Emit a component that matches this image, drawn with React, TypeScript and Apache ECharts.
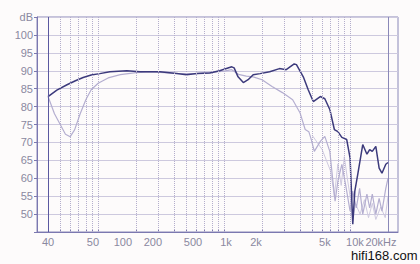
import React, { useEffect, useRef } from 'react';
import * as echarts from 'echarts';

// Frequency response (Hz, dB)
const mainCurve: [number, number][] = [
  [40, 82.8], [47, 84.6], [56.6, 86.1], [66, 87.2], [76, 88.1], [88, 88.8], [103, 89.2], [124, 89.7],
  [169, 90], [215, 89.7], [309, 89.7], [420, 89.2], [503, 88.9], [608, 89.2], [770, 89.4], [920, 90],
  [1150, 91.1], [1200, 90.8], [1290, 88.3], [1420, 86.7], [1550, 87.5], [1700, 88.9], [1930, 89.2],
  [2300, 89.7], [2750, 90.6], [3110, 90.3], [3600, 91.9], [3750, 91.7], [4250, 88.3], [4650, 84.7],
  [5100, 81.4], [5800, 82.8], [6300, 82.2], [6900, 79.2], [7500, 73.6], [8000, 73], [8600, 71.4],
  [9400, 70.8], [10000, 65.6], [10300, 54.4], [10500, 47.2], [10900, 56.4], [11500, 61.1], [12600, 69.4],
  [13600, 66.7], [14300, 68], [15000, 67.5], [16000, 68.9], [17000, 62.8], [17900, 61.4], [19200, 63.9],
  [20000, 64.4],
];
const offAxisCurve: [number, number][] = [
  [40, 82.8], [45, 78], [50, 75], [55, 72.3], [60, 71.6], [65, 73.5], [72, 78], [80, 82], [88, 84.7],
  [100, 86.5], [120, 88], [150, 88.9], [200, 89.5], [260, 89.7], [400, 89.3], [600, 89.2], [1000, 89.9],
  [1150, 90.3], [1300, 89], [1500, 88.5], [1700, 88.3], [2000, 87.5], [2400, 85.6], [2900, 83.9],
  [3500, 81.9], [4000, 78.3], [4400, 73.6], [4700, 73], [4900, 71], [5200, 67.5], [5800, 70.3],
  [6300, 71.7], [6900, 67.5], [7300, 59.2], [7600, 53.6], [8000, 59.2], [8600, 63.9], [9200, 58.3],
  [10000, 50.8], [10500, 56.4], [11200, 51.7], [11900, 57.2], [12600, 50], [13600, 55.6], [14300, 51.7],
  [15000, 55.6], [16000, 50], [17000, 54.4], [17900, 50.8], [19200, 57.2], [20000, 60],
];
const faintCurve: [number, number][] = [
  [5000, 72], [6000, 68], [7000, 62], [7500, 55], [8000, 64], [8500, 58], [9000, 66], [9500, 60],
  [10000, 55], [10500, 48], [11000, 53], [12000, 50], [13000, 54], [14000, 49], [15000, 53],
  [16000, 48.5], [17500, 52], [19000, 49], [20000, 55],
];

const gridFreqs = [50, 60, 70, 80, 90, 100, 200, 300, 400, 500, 600, 700, 800, 900, 1000,
  2000, 3000, 4000, 5000, 6000, 7000, 8000, 9000, 10000];
const edgeFreqs = [40, 20000];
const xLabelTexts = ['40', '50', '100', '200', '500', '1k', '2k', '5k', '10k', '20kHz'];
const xLabelAt = [40, 91, 157, 272, 566, 1035, 1790, 6311, 10930, 17580];
const watermark = 'hifi168.com';

export default function App() {
  const ref = useRef<HTMLDivElement>(null);
  useEffect(() => {
    if (!ref.current) return;
    const chart = echarts.init(ref.current, undefined, { renderer: 'svg' });
    const labelColor = '#8a88a0';
    chart.setOption({
      animation: false,
      backgroundColor: '#fdfbfb',
      grid: { left: 37, right: 22, top: 17, bottom: 32, show: true, borderColor: '#8a88b8', borderWidth: 1 },
      xAxis: {
        type: 'log', logBase: 10, min: 32.7, max: 24000,
        axisLine: { show: true, lineStyle: { color: '#7b78b0', width: 1 } },
        axisTick: { show: true, inside: true, length: 3, customValues: [...edgeFreqs, ...gridFreqs], lineStyle: { color: '#7b78b0' } },
        axisLabel: {
          customValues: xLabelAt,
          color: labelColor, fontSize: 11, margin: 4, fontFamily: '"Liberation Sans", Arial, sans-serif',
          formatter: (v: number) => {
            const i = xLabelAt.findIndex((f) => Math.abs(f - v) / v < 0.01);
            return i >= 0 ? xLabelTexts[i] : '';
          },
        },
        splitLine: { show: false },
        minorSplitLine: { show: false },
      },
      yAxis: {
        type: 'value', min: 45, max: 105, interval: 5,
        axisLine: { show: true, lineStyle: { color: '#7b78b0' } },
        axisTick: { show: true, length: 3, lineStyle: { color: '#7b78b0' } },
        axisLabel: {
          color: labelColor, fontSize: 11, margin: 4, fontFamily: '"Liberation Sans", Arial, sans-serif',
          formatter: (v: number) => (v === 105 ? 'dB' : v === 45 ? '' : String(v)),
        },
        splitLine: { show: true, lineStyle: { color: '#cdc9de', width: 1 } },
      },
      series: [
        {
          type: 'line', data: faintCurve, symbol: 'none', z: 1,
          lineStyle: { color: '#cfcae0', width: 1 },
          markLine: {
            silent: true, symbol: 'none', label: { show: false },
            lineStyle: { type: 'dotted', color: '#b4aecc', width: 1 },
            data: [
              ...gridFreqs.map((f) => ({ xAxis: f })),
              ...edgeFreqs.map((f, i) => ({ xAxis: f, lineStyle: { type: 'solid', color: i === 0 ? '#5a58a0' : '#8a88b8', width: 1 } })),
            ],
          },
        },
        {
          type: 'line', data: offAxisCurve, symbol: 'none', z: 2,
          lineStyle: { color: '#b4aed0', width: 1.2 },
        },
        {
          type: 'line', data: mainCurve, symbol: 'none', z: 3,
          lineStyle: { color: '#3c3a7c', width: 1.5 },
        },
      ],
      graphic: [
        {
          type: 'text', left: 351, top: 249,
          style: { text: watermark, fill: '#111', font: '13px "Liberation Sans", Arial, sans-serif' },
        },
      ],
    });
    return () => chart.dispose();
  }, []);
  return <div ref={ref} style={{ position: 'fixed', left: 0, top: 0, width: 420, height: 264 }} />;
}
